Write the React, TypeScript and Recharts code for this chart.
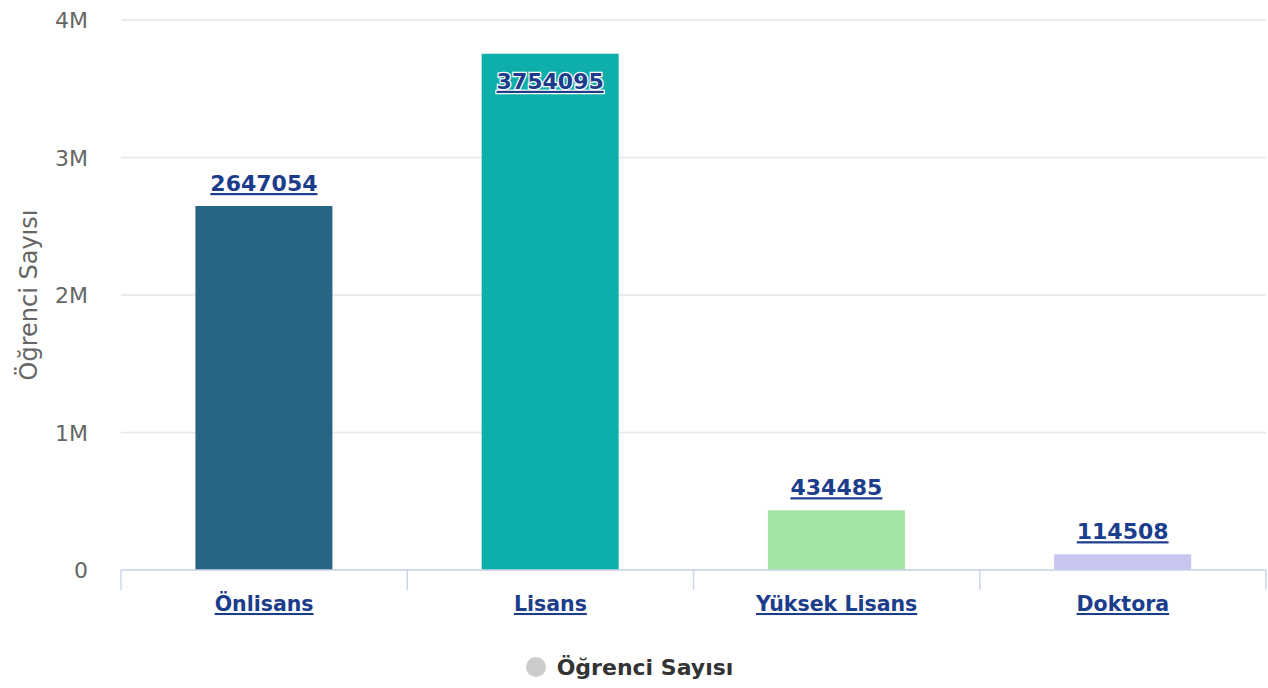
import React from 'react';
import { BarChart, Bar, XAxis, YAxis, CartesianGrid, LabelList, Legend, Cell, Label } from 'recharts';

const categories = ['Önlisans', 'Lisans', 'Yüksek Lisans', 'Doktora'];
const studentCounts = [2647054, 3754095, 434485, 114508];
const barColors = ['#266683', '#0eaeaa', '#a5e5a4', '#c6c6f0'];
const yTicks = [0, 1000000, 2000000, 3000000, 4000000];
const yTickLabels = ['0', '1M', '2M', '3M', '4M'];
const seriesName = 'Öğrenci Sayısı';

const data = categories.map((c, i) => ({ name: c, value: studentCounts[i] }));

const LINK = '#1c3d8c';
const FONT = '"DejaVu Sans", Verdana, sans-serif';

const XTick = (props: any) => {
  const { x, y, payload, width, visibleTicksCount, index } = props;
  const half = width / (2 * visibleTicksCount);
  return (
    <g>
      <line x1={x - half} x2={x - half} y1={y} y2={y + 20} stroke="#ccd6eb" strokeWidth={1.5} />
      {index === visibleTicksCount - 1 && (
        <line x1={x + half} x2={x + half} y1={y} y2={y + 20} stroke="#ccd6eb" strokeWidth={1.5} />
      )}
      <text x={x} y={y + 41} textAnchor="middle" fill={LINK} fontFamily={FONT} fontWeight="bold" fontSize={20.5}
        style={{ textDecoration: 'underline' }}>
        {payload.value}
      </text>
    </g>
  );
};

const YTick = (props: any) => {
  const { x, y, payload } = props;
  const idx = yTicks.indexOf(payload.value);
  return (
    <text x={x} y={y} dy={8} textAnchor="end" fill="#666666" fontFamily={FONT} fontSize={22}>
      {yTickLabels[idx]}
    </text>
  );
};

const ValueLabel = (props: any) => {
  const { x, y, width, value } = props;
  const inside = y < 70;
  const ty = inside ? y + 35 : y - 15;
  return (
    <text x={x + width / 2} y={ty} textAnchor="middle" fill={LINK} fontFamily={FONT} fontWeight="bold" fontSize={22}
      stroke="#ffffff" strokeWidth={inside ? 2.5 : 0} paintOrder="stroke"
      style={{ textDecoration: 'underline' }}>
      {value}
    </text>
  );
};

const LegendContent = () => (
  <div style={{ display: 'flex', justifyContent: 'center', alignItems: 'center', height: 48, paddingTop: 6, boxSizing: 'border-box', marginLeft: -8 }}>
    <svg width={22} height={22} style={{ marginRight: 10 }}>
      <circle cx={11} cy={11} r={10} fill="#cccccc" />
    </svg>
    <span style={{ fontFamily: FONT, fontWeight: 'bold', fontSize: 22, color: '#333333' }}>{seriesName}</span>
  </div>
);

const YTitle = (props: any) => {
  const { viewBox } = props;
  const cy = viewBox.y + viewBox.height / 2;
  return (
    <text x={29} y={cy} transform={`rotate(-90, 29, ${cy})`} textAnchor="middle" dominantBaseline="central"
      fill="#666666" fontFamily={FONT} fontSize={24}>
      {seriesName}
    </text>
  );
};

export default function App() {
  return (
    <div style={{ position: 'absolute', left: 0, top: 0, width: 1268, height: 688, background: '#fff' }}>
      <BarChart width={1268} height={688} data={data} margin={{ top: 20, right: 2, bottom: 0, left: 0 }}
        barCategoryGap="26%">
        <CartesianGrid vertical={false} stroke="#e6e6e6" strokeWidth={1.5} />
        <XAxis dataKey="name" height={70} tick={<XTick />} tickLine={false} tickSize={0} tickMargin={0}
          axisLine={{ stroke: '#ccd6eb', strokeWidth: 1.5 }} interval={0} />
        <YAxis width={121} domain={[0, 4000000]} ticks={yTicks} tick={<YTick />} tickLine={false} axisLine={false}
          tickSize={0} tickMargin={33}>
          <Label content={<YTitle />} />
        </YAxis>
        <Legend verticalAlign="bottom" height={48} content={<LegendContent />} />
        <Bar dataKey="value" name={seriesName} isAnimationActive={false}>
          {data.map((d, i) => (
            <Cell key={d.name} fill={barColors[i]} />
          ))}
          <LabelList dataKey="value" content={<ValueLabel />} />
        </Bar>
      </BarChart>
    </div>
  );
}
